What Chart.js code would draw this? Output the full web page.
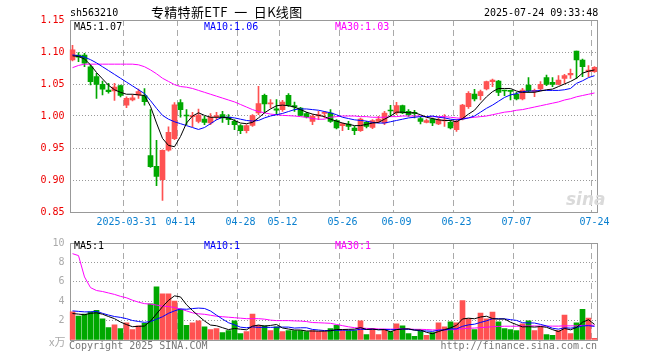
<!DOCTYPE html>
<html lang="zh-CN">
<head>
<meta charset="UTF-8">
<title>专精特新ETF 一 日K线图</title>
<script src="https://cdn.jsdelivr.net/npm/chart.js"></script>
<style>
  body { margin: 0; background: #fff; width: 660px; height: 360px; position: relative; overflow: hidden;
         font-family: "DejaVu Sans Mono", monospace; font-size: 10px; }
  canvas { position: absolute; left: 0; }
  #price { top: 0; }
  #vol { top: 232px; }
  .t { position: absolute; white-space: pre; line-height: 12px; }
</style>
</head>
<body>
<canvas id="price" width="660" height="232"></canvas>
<canvas id="vol" width="660" height="128"></canvas>

<div class="t" style="left:70px;top:7px">sh563210</div>
<div class="t" style="left:151px;top:4px;font-family:'Noto Sans CJK SC';font-size:13px;line-height:16px;letter-spacing:0.3px">专精特新ETF  一  日K线图</div>
<div class="t" style="left:484px;top:7px">2025-07-24 09:33:48</div>

<div class="t" style="left:74px;top:21px;color:#000">MA5:1.07</div>
<div class="t" style="left:204px;top:21px;color:#0000ff">MA10:1.06</div>
<div class="t" style="left:335px;top:21px;color:#ff00ff">MA30:1.03</div>
<div class="t" style="left:566px;top:189px;color:#dadada;font:italic bold 17px 'DejaVu Sans'">sina</div>

<div class="t" style="left:74px;top:240px;color:#000">MA5:1</div>
<div class="t" style="left:204px;top:240px;color:#0000ff">MA10:1</div>
<div class="t" style="left:335px;top:240px;color:#ff00ff">MA30:1</div>
<div class="t" style="left:49px;top:335px;color:#aaa;font-family:'Noto Sans CJK SC';font-size:11px">x万</div>
<div class="t" style="left:69px;top:340px;color:#777">Copyright 2025 SINA.COM</div>
<div class="t" style="right:63px;top:340px;color:#777">http://finance.sina.com.cn</div>

<script>
  const dates = [
    '2025-03-18','2025-03-19','2025-03-20','2025-03-21','2025-03-24','2025-03-25','2025-03-26','2025-03-27','2025-03-28','2025-03-31',
    '2025-04-01','2025-04-02','2025-04-03','2025-04-07','2025-04-08','2025-04-09','2025-04-10','2025-04-11','2025-04-14','2025-04-15',
    '2025-04-16','2025-04-17','2025-04-18','2025-04-21','2025-04-22','2025-04-23','2025-04-24','2025-04-25','2025-04-28','2025-04-29',
    '2025-04-30','2025-05-06','2025-05-07','2025-05-08','2025-05-09','2025-05-12','2025-05-13','2025-05-14','2025-05-15','2025-05-16',
    '2025-05-19','2025-05-20','2025-05-21','2025-05-22','2025-05-23','2025-05-26','2025-05-27','2025-05-28','2025-05-29','2025-05-30',
    '2025-06-03','2025-06-04','2025-06-05','2025-06-06','2025-06-09','2025-06-10','2025-06-11','2025-06-12','2025-06-13','2025-06-16',
    '2025-06-17','2025-06-18','2025-06-19','2025-06-20','2025-06-23','2025-06-24','2025-06-25','2025-06-26','2025-06-27','2025-06-30',
    '2025-07-01','2025-07-02','2025-07-03','2025-07-04','2025-07-07','2025-07-08','2025-07-09','2025-07-10','2025-07-11','2025-07-14',
    '2025-07-15','2025-07-16','2025-07-17','2025-07-18','2025-07-21','2025-07-22','2025-07-23','2025-07-24'
  ];

  // dates that get a label and a dashed grid line
  const tickDates = ['2025-03-31','2025-04-14','2025-04-28','2025-05-12','2025-05-26','2025-06-09','2025-06-23','2025-07-07','2025-07-24'];
  const tickText  = ['2025-03-31','04-14','04-28','05-12','05-26','06-09','06-23','07-07','07-24'];

  const open = [
    1.0875,1.0950,1.0950,1.0770,1.0615,1.0495,1.0405,1.0390,1.0475,1.0170,
    1.0250,1.0330,1.0320,0.9380,0.9215,0.9005,0.9465,0.9645,1.0210,1.0015,
    0.9990,0.9915,0.9953,0.9891,0.9990,1.0021,0.9984,0.9917,0.9849,0.9771,
    0.9854,1.0047,1.0323,1.0190,1.0112,1.0099,1.0323,1.0161,1.0125,1.0036,
    0.9917,1.0000,1.0042,1.0047,0.9927,0.9849,0.9875,0.9813,0.9771,0.9901,
    0.9823,0.9917,0.9891,1.0094,1.0047,1.0161,1.0073,1.0057,0.9958,0.9901,
    0.9953,0.9875,0.9922,0.9901,0.9786,0.9953,1.0146,1.0344,1.0318,1.0422,
    1.0536,1.0547,1.0396,1.0396,1.0339,1.0266,1.0484,1.0386,1.0422,1.0599,
    1.0526,1.0495,1.0589,1.0641,1.1016,1.0875,1.0693,1.0693
  ];
  const high = [
    1.1105,1.0990,1.0980,1.0800,1.0665,1.0545,1.0510,1.0510,1.0485,1.0300,
    1.0330,1.0420,1.0430,1.0100,0.9620,0.9470,0.9830,1.0210,1.0255,1.0100,
    1.0057,1.0110,0.9995,1.0036,1.0057,1.0073,1.0021,0.9943,0.9865,0.9865,
    1.0021,1.0464,1.0344,1.0255,1.0255,1.0245,1.0349,1.0219,1.0135,1.0057,
    1.0021,1.0073,1.0073,1.0099,0.9943,0.9891,0.9917,0.9839,0.9969,0.9917,
    0.9943,0.9995,1.0073,1.0167,1.0214,1.0172,1.0099,1.0089,0.9984,0.9953,
    0.9969,0.9969,1.0021,0.9927,0.9943,1.0182,1.0380,1.0417,1.0406,1.0547,
    1.0578,1.0557,1.0406,1.0406,1.0370,1.0432,1.0599,1.0422,1.0536,1.0641,
    1.0599,1.0630,1.0651,1.0734,1.1016,1.0891,1.0786,1.0771
  ];
  const low = [
    1.0860,1.0850,1.0770,1.0485,1.0275,1.0330,1.0355,1.0245,1.0300,1.0130,
    1.0235,1.0275,1.0170,0.9195,0.8910,0.8680,0.9450,0.9630,0.9980,0.9865,
    0.9833,0.9890,0.9865,0.9865,0.9943,0.9901,0.9865,0.9786,0.9724,0.9734,
    0.9839,1.0021,1.0047,1.0125,1.0021,1.0073,1.0151,1.0073,1.0005,0.9969,
    0.9865,0.9943,0.9969,0.9901,0.9797,0.9771,0.9786,0.9708,0.9760,0.9813,
    0.9802,0.9891,0.9865,0.9995,1.0021,1.0036,0.9995,0.9969,0.9875,0.9891,
    0.9849,0.9865,0.9839,0.9797,0.9760,0.9938,1.0120,1.0234,1.0250,1.0406,
    1.0458,1.0318,1.0318,1.0250,1.0250,1.0250,1.0370,1.0302,1.0391,1.0474,
    1.0458,1.0484,1.0510,1.0589,1.0589,1.0615,1.0615,1.0682
  ];
  const close = [
    1.1032,1.0920,1.0825,1.0535,1.0495,1.0420,1.0380,1.0450,1.0320,1.0275,
    1.0285,1.0380,1.0225,0.9210,0.9055,0.9465,0.9745,1.0175,1.0100,1.0000,
    1.0005,1.0016,0.9901,0.9984,0.9995,0.9969,0.9943,0.9865,0.9771,0.9849,
    1.0005,1.0193,1.0188,1.0193,1.0091,1.0219,1.0167,1.0141,1.0010,0.9984,
    0.9995,1.0021,1.0047,0.9917,0.9813,0.9880,0.9839,0.9771,0.9953,0.9839,
    0.9927,0.9953,1.0047,1.0078,1.0161,1.0047,1.0021,1.0042,0.9917,0.9927,
    0.9891,0.9943,0.9927,0.9813,0.9917,1.0172,1.0354,1.0266,1.0380,1.0536,
    1.0563,1.0370,1.0391,1.0386,1.0266,1.0406,1.0391,1.0391,1.0495,1.0495,
    1.0495,1.0563,1.0630,1.0667,1.0875,1.0771,1.0719,1.0760
  ];

  const ma5 = [
    1.094,1.093,1.089,1.080,1.068,1.058,1.048,1.041,1.037,1.034,
    1.034,1.033,1.032,1.015,0.989,0.965,0.954,0.952,0.968,0.989,
    1.000,1.005,1.001,0.998,0.998,0.998,0.997,0.993,0.989,0.988,
    0.990,0.997,1.005,1.011,1.016,1.017,1.016,1.014,1.010,1.006,
    1.003,1.001,0.999,0.995,0.992,0.989,0.987,0.985,0.985,0.987,
    0.989,0.990,0.995,1.000,1.006,1.006,1.005,1.005,1.002,0.998,
    0.996,0.994,0.993,0.993,0.991,0.996,1.003,1.009,1.020,1.030,
    1.038,1.043,1.043,1.043,1.039,1.037,1.037,1.037,1.039,1.041,
    1.042,1.046,1.050,1.054,1.059,1.067,1.070,1.072
  ];
  const ma10 = [
    1.0955,1.094,1.092,1.088,1.083,1.077,1.071,1.065,1.059,1.053,
    1.047,1.041,1.035,1.024,1.012,1.001,0.995,0.991,0.988,0.985,
    0.982,0.979,0.982,0.988,0.994,0.998,0.998,0.997,0.995,0.993,
    0.992,0.993,0.997,1.000,1.002,1.004,1.007,1.010,1.011,1.011,
    1.010,1.009,1.007,1.005,1.002,0.998,0.996,0.994,0.993,0.992,
    0.990,0.989,0.989,0.991,0.993,0.995,0.997,0.998,0.999,0.999,
    1.000,0.998,0.997,0.995,0.994,0.995,0.997,1.000,1.006,1.012,
    1.017,1.023,1.029,1.033,1.035,1.038,1.039,1.039,1.040,1.040,
    1.040,1.040,1.041,1.043,1.051,1.055,1.060,1.063
  ];
  const ma30 = [
    1.0755,1.079,1.081,1.081,1.081,1.081,1.081,1.081,1.081,1.081,
    1.081,1.080,1.077,1.072,1.066,1.059,1.054,1.049,1.046,1.045,
    1.043,1.040,1.037,1.034,1.031,1.028,1.025,1.022,1.018,1.014,
    1.010,1.007,1.005,1.003,1.002,1.001,1.0005,1.000,0.999,0.998,
    0.996,0.995,0.995,0.998,0.999,1.000,1.000,1.000,0.999,0.999,
    0.998,0.998,0.998,0.999,0.999,1.000,1.000,1.000,1.000,0.999,
    0.999,0.999,0.999,0.998,0.997,0.996,0.997,0.998,0.999,1.000,
    1.002,1.004,1.006,1.007,1.009,1.010,1.012,1.014,1.016,1.018,
    1.020,1.022,1.025,1.027,1.030,1.032,1.034,1.036
  ];

  // volume, unit 万
  const vol = [
    2.90,2.47,2.67,2.90,3.07,2.17,1.27,1.57,1.17,1.77,
    1.07,1.47,1.73,3.73,5.47,4.77,4.77,4.00,3.17,1.50,
    1.77,1.97,1.37,1.07,1.17,0.77,0.97,1.97,0.67,0.87,
    2.67,1.50,1.47,0.97,1.37,0.87,0.97,0.97,0.97,0.87,
    0.97,0.87,0.87,1.17,1.50,0.97,0.97,0.97,1.97,0.57,
    1.17,0.57,1.07,0.87,1.67,1.47,0.67,0.37,0.97,0.47,
    0.77,1.77,1.37,1.87,1.77,4.07,2.17,1.07,2.77,2.17,
    2.87,1.87,1.17,1.07,0.97,1.67,1.97,0.97,1.37,0.57,
    0.47,0.97,2.57,0.67,1.77,3.17,2.27,0.17
  ];
  const vma5 = [
    2.73,2.67,2.60,2.75,2.80,2.66,2.42,2.20,1.85,1.59,
    1.37,1.41,1.44,1.95,2.69,3.43,4.09,4.55,4.44,3.64,
    3.04,2.48,1.96,1.54,1.47,1.27,1.07,1.19,1.11,1.05,
    1.43,1.54,1.44,1.50,1.60,1.24,1.13,1.03,1.03,0.93,
    0.93,0.91,0.91,0.95,1.08,1.08,1.10,1.12,1.28,1.09,
    1.13,1.05,1.07,0.85,1.07,1.13,1.15,1.01,1.03,0.79,
    0.65,0.87,1.07,1.25,1.51,2.17,2.25,2.19,2.37,2.45,
    2.21,2.15,2.17,1.83,1.59,1.35,1.37,1.33,1.39,1.31,
    1.07,0.87,1.19,1.05,1.29,1.83,2.09,1.61
  ];
  const vma10 = [
    3.00,2.95,2.90,2.90,2.95,2.75,2.57,2.42,2.33,2.20,
    2.01,1.91,1.82,1.90,2.14,2.40,2.75,3.00,3.20,3.17,
    3.24,3.29,3.25,2.99,2.56,2.16,1.78,1.57,1.32,1.26,
    1.35,1.30,1.31,1.30,1.32,1.33,1.33,1.23,1.26,1.26,
    1.09,1.03,0.97,0.99,1.00,1.01,1.01,1.01,1.11,1.08,
    1.10,1.07,1.09,1.06,1.08,1.13,1.10,1.04,0.94,0.93,
    0.89,1.01,1.04,1.14,1.15,1.41,1.56,1.63,1.81,1.98,
    2.19,2.20,2.18,2.10,2.02,1.78,1.76,1.75,1.61,1.45,
    1.21,1.12,1.26,1.22,1.30,1.45,1.48,1.40
  ];
  const vma30 = [
    8.90,8.70,6.50,5.40,5.10,5.00,4.85,4.70,4.50,4.35,
    4.10,3.90,3.75,3.70,3.60,3.50,3.45,3.35,3.20,3.00,
    2.80,2.70,2.65,2.55,2.45,2.40,2.35,2.30,2.25,2.20,
    2.20,2.20,2.15,2.05,2.00,2.00,2.00,1.97,1.95,1.90,
    1.80,1.78,1.75,1.72,1.60,1.48,1.36,1.27,1.23,1.20,
    1.17,1.14,1.13,1.12,1.13,1.15,1.14,1.10,1.10,1.08,
    1.04,1.04,1.04,1.06,1.08,1.17,1.21,1.23,1.28,1.32,
    1.37,1.40,1.42,1.42,1.42,1.43,1.45,1.45,1.44,1.44,
    1.43,1.43,1.46,1.46,1.46,1.50,1.52,1.52
  ];

  const UP = '#ff5252', DOWN = '#00a800';
  const barColor = close.map((c, i) => c >= open[i] ? UP : DOWN);
  const labelIdx = tickDates.map(d => dates.indexOf(d));
  const mono = { family: 'DejaVu Sans Mono', size: 10 };

  // gray box round each plot area
  const frame = {
    id: 'frame',
    beforeDatasetsDraw(chart) {
      const { ctx, chartArea: a } = chart;
      ctx.save();
      ctx.strokeStyle = '#999';
      ctx.lineWidth = 1;
      ctx.strokeRect(Math.round(a.left) + 0.5, Math.round(a.top) + 0.5,
                     Math.round(a.right - a.left) - 1, Math.round(a.bottom - a.top));
      ctx.restore();
    }
  };

  function line(data, color) {
    return { type: 'line', data, borderColor: color, borderWidth: 1, pointRadius: 0, tension: 0, order: 1 };
  }

  function xAxis(showLabels) {
    return {
      offset: true,
      grid: { offset: true, drawTicks: false, color: c => labelIdx.includes(c.index) ? '#aaa' : 'rgba(0,0,0,0)' },
      border: { display: false, dash: [6, 4] },
      ticks: {
        display: showLabels, autoSkip: false, maxRotation: 0, minRotation: 0, padding: 4,
        color: '#0b80d0', font: mono,
        callback: (v, i) => { const k = labelIdx.indexOf(i); return k >= 0 ? tickText[k] : ''; }
      },
      afterFit: s => { s.height = 20; }
    };
  }

  new Chart(document.getElementById('price'), {
    type: 'bar',
    data: {
      labels: dates,
      datasets: [
        line(ma5, '#000000'),
        line(ma10, '#0000ff'),
        line(ma30, '#ff00ff'),
        { data: dates.map((d, i) => [open[i], close[i]]), backgroundColor: barColor,
          barThickness: 5, grouped: false, minBarLength: 1, order: 2 },
        { data: dates.map((d, i) => [low[i], high[i]]), backgroundColor: barColor,
          barThickness: 1, grouped: false, order: 3 }
      ]
    },
    options: {
      responsive: false, animation: false,
      layout: { padding: { left: 0, right: 62.5, top: 20, bottom: 0 } },
      plugins: { legend: { display: false }, tooltip: { enabled: false } },
      scales: {
        x: xAxis(true),
        y: {
          min: 0.85, max: 1.15,
          grid: { drawTicks: false, color: '#999' },
          border: { display: false, dash: [1, 2] },
          ticks: { stepSize: 0.05, padding: 5, color: '#ee0000', font: mono, callback: v => v.toFixed(2) },
          afterFit: s => { s.width = 69.5; }
        }
      }
    },
    plugins: [frame]
  });

  new Chart(document.getElementById('vol'), {
    type: 'bar',
    data: {
      labels: dates,
      datasets: [
        line(vma5, '#000000'),
        line(vma10, '#0000ff'),
        line(vma30, '#ff00ff'),
        { data: vol, backgroundColor: barColor, barThickness: 5, order: 2 }
      ]
    },
    options: {
      responsive: false, animation: false,
      layout: { padding: { left: 0, right: 62.5, top: 8, bottom: 0 } },
      plugins: { legend: { display: false }, tooltip: { enabled: false } },
      scales: {
        x: xAxis(false),
        y: {
          min: 0, max: 10,
          grid: { drawTicks: false, color: '#999' },
          border: { display: false, dash: [1, 2] },
          ticks: { stepSize: 2, padding: 5, color: '#aaa', font: mono, callback: v => v === 0 ? '' : v },
          afterFit: s => { s.width = 69.5; }
        }
      }
    },
    plugins: [frame]
  });
</script>
</body>
</html>
